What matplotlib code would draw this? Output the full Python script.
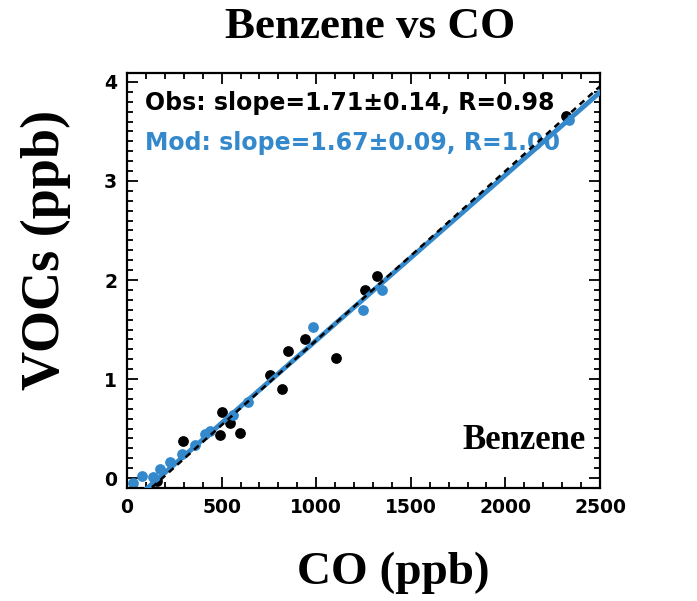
import matplotlib
matplotlib.use("Agg")
import matplotlib.pyplot as plt
from matplotlib.ticker import MultipleLocator
import numpy as np

# observed benzene vs CO (ppb)
obs_co = [2320, 1321, 1258, 1105, 941, 851, 756, 819, 502, 544, 492, 597, 296, 159]
obs_voc = [3.66, 2.04, 1.90, 1.21, 1.40, 1.28, 1.04, 0.90, 0.67, 0.56, 0.44, 0.46, 0.37, -0.03]

# model benzene vs CO (ppb)
mod_co = [2336, 1348, 1247, 983, 640, 560, 439, 412, 359, 291, 227, 174, 137, 79, 32]
mod_voc = [3.62, 1.90, 1.70, 1.53, 0.77, 0.64, 0.48, 0.45, 0.33, 0.24, 0.16, 0.09, 0.01, 0.02, -0.05]

# fitted lines (slope in ppb VOC per 1000 ppb CO)
obs_slope, obs_err, obs_r, obs_icpt = 1.71, 0.14, 0.98, -0.32
mod_slope, mod_err, mod_r, mod_icpt = 1.67, 0.09, 1.00, -0.28

BLUE = '#3389cb'

fig = plt.figure(figsize=(6.97, 6.01), dpi=100)
ax = fig.add_axes([127/697, 1-488/601, 473/697, 415/601])

xx = np.array([0, 2500])
ax.plot(xx, mod_slope*1e-3*xx + mod_icpt, color=BLUE, lw=3.5, zorder=3)
ax.plot(xx, obs_slope*1e-3*xx + obs_icpt, color='black', lw=1.8,
        dashes=(2.5, 2), zorder=4)

ax.scatter(obs_co, obs_voc, s=60, color='black', zorder=2, linewidths=0)
ax.scatter(mod_co, mod_voc, s=60, color=BLUE, zorder=2, linewidths=0)

ax.set_xlim(0, 2500)
ax.set_ylim(-0.10, 4.09)
ax.xaxis.set_major_locator(MultipleLocator(500))
ax.xaxis.set_minor_locator(MultipleLocator(100))
ax.yaxis.set_major_locator(MultipleLocator(1))
ax.yaxis.set_minor_locator(MultipleLocator(0.1))
ax.tick_params(which='both', direction='in', top=True, right=True, width=1.3)
ax.tick_params(which='major', length=8)
ax.tick_params(which='minor', length=4)
ax.tick_params(axis='x', pad=7)
ax.tick_params(axis='y', pad=7)
for lab in ax.get_xticklabels() + ax.get_yticklabels():
    lab.set_fontfamily('DejaVu Sans')
    lab.set_fontweight('bold')
    lab.set_fontsize(13.5)
for sp in ax.spines.values():
    sp.set_linewidth(1.6)

ax.text(0.038, 0.928, f'Obs: slope={obs_slope:.2f}±{obs_err:.2f}, R={obs_r:.2f}',
        transform=ax.transAxes, fontsize=17, fontweight='bold',
        family='DejaVu Sans', color='black', va='center')
ax.text(0.038, 0.832, f'Mod: slope={mod_slope:.2f}±{mod_err:.2f}, R={mod_r:.2f}',
        transform=ax.transAxes, fontsize=17, fontweight='bold',
        family='DejaVu Sans', color=BLUE, va='center')
ax.text(0.97, 0.115, 'Benzene', transform=ax.transAxes, ha='right', va='center',
        fontsize=25, fontweight='bold', family='Liberation Serif')

fig.text(370/697, 1-27/601, 'Benzene vs CO', ha='center', va='center',
         fontsize=32.5, fontweight='bold', family='Liberation Serif')
fig.text(393/697, 1-573/601, 'CO (ppb)', ha='center', va='center',
         fontsize=34, fontweight='bold', family='Liberation Serif')
fig.text(46/697, 1-250/601, 'VOCs (ppb)', ha='center', va='center', rotation=90,
         fontsize=39, fontweight='bold', family='Liberation Serif')

fig.savefig('out.png', dpi=100)
